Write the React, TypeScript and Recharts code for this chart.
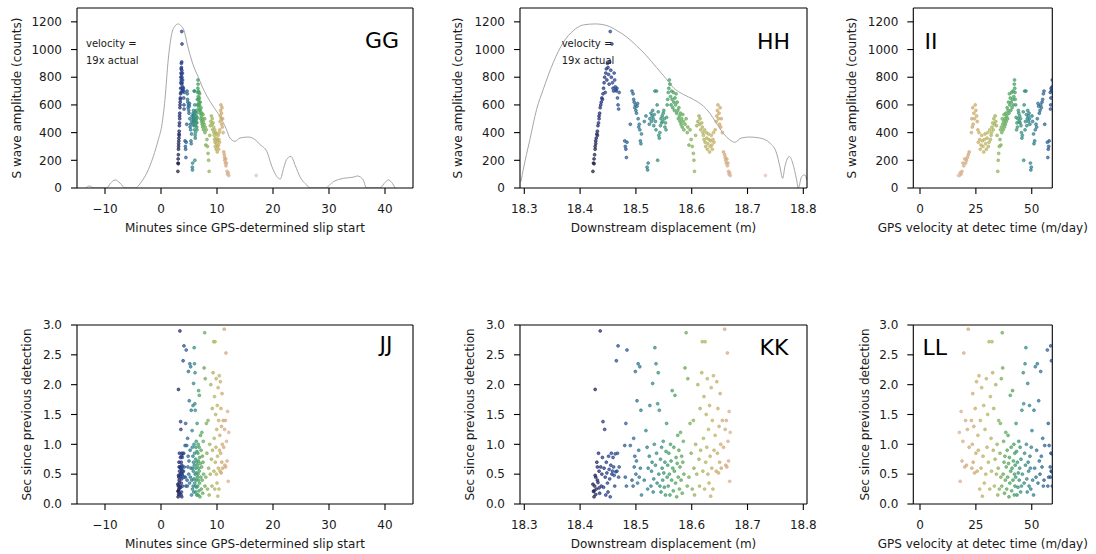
import React from 'react';
import { ComposedChart, Scatter, Line, XAxis, YAxis, Label, ReferenceLine } from 'recharts';

// Each detection: [minutes since slip start, downstream displacement (m), GPS velocity (m/day), S wave amplitude (counts), sec since previous detection]
type Row = [number, number, number, number, number];

const phaseNavy: Row[] = [
  [3.02, 18.423, 66.0, 120, 0.33], [3.05, 18.424, 65.8, 180, 0.21], [3.06, 18.425, 65.6, 210, 0.12],
  [3.08, 18.425, 65.5, 175, 0.22], [3.1, 18.426, 65.3, 240, 0.3], [3.12, 18.427, 65.0, 280, 1.92],
  [3.14, 18.427, 64.9, 300, 0.48], [3.15, 18.428, 64.8, 320, 0.16], [3.18, 18.428, 64.5, 340, 0.45],
  [3.2, 18.429, 64.3, 360, 0.25], [3.22, 18.43, 64.0, 390, 0.7], [3.24, 18.431, 63.9, 380, 0.62],
  [3.25, 18.431, 63.8, 410, 0.4], [3.28, 18.432, 63.5, 450, 0.36], [3.3, 18.433, 63.3, 470, 0.85],
  [3.32, 18.434, 63.0, 520, 0.55], [3.34, 18.434, 62.9, 500, 0.27], [3.35, 18.435, 62.8, 540, 0.18],
  [3.38, 18.436, 62.5, 580, 2.9], [3.4, 18.437, 62.3, 600, 0.62], [3.42, 18.438, 62.0, 620, 0.3],
  [3.45, 18.439, 61.8, 650, 0.5], [3.47, 18.44, 61.5, 640, 0.78], [3.5, 18.441, 61.3, 680, 1.38],
];

const phaseNavyBlue: Row[] = [
  [3.52, 18.442, 61.2, 720, 0.28], [3.54, 18.443, 61.1, 760, 0.6], [3.55, 18.444, 61.0, 800, 1.25],
  [3.57, 18.445, 60.9, 690, 0.45], [3.58, 18.446, 60.8, 830, 0.15], [3.6, 18.447, 60.7, 860, 0.7],
  [3.62, 18.448, 60.6, 780, 0.52], [3.63, 18.449, 60.5, 900, 0.35], [3.65, 18.45, 60.4, 870, 0.2],
  [3.67, 18.451, 60.3, 820, 0.8], [3.68, 18.452, 60.2, 750, 0.58], [3.7, 18.453, 60.1, 910, 0.42],
  [3.71, 18.454, 60.0, 1130, 0.12], [3.72, 18.455, 59.9, 850, 0.65], [3.74, 18.456, 59.8, 800, 0.85],
  [3.75, 18.457, 59.7, 1040, 0.5], [3.77, 18.458, 59.6, 760, 0.55], [3.78, 18.459, 59.5, 720, 0.78],
  [3.8, 18.46, 59.4, 700, 0.62], [3.82, 18.461, 59.3, 830, 0.48], [3.85, 18.462, 59.2, 780, 0.3],
  [3.88, 18.463, 59.1, 730, 0.84], [3.9, 18.464, 59.0, 710, 0.54],
];

const phaseBlue: Row[] = [
  [3.95, 18.465, 58.8, 700, 2.4], [4.0, 18.466, 58.7, 720, 0.55], [4.05, 18.467, 58.6, 650, 0.85],
  [4.1, 18.468, 58.5, 600, 2.65], [4.12, 18.469, 58.4, 570, 0.45], [4.15, 18.47, 58.3, 690, 0.62],
  [4.3, 18.48, 57.8, 340, 0.98], [4.35, 18.481, 57.6, 300, 0.45], [4.4, 18.482, 57.4, 280, 1.35],
  [4.45, 18.483, 57.2, 220, 0.3], [4.5, 18.484, 57.0, 330, 2.58],
];

const phaseBlueTeal: Row[] = [
  [4.6, 18.49, 55.8, 460, 0.98], [4.65, 18.493, 55.5, 700, 0.4], [4.7, 18.495, 55.2, 680, 0.3],
  [4.75, 18.496, 54.9, 640, 1.1], [4.8, 18.497, 54.6, 620, 0.62], [4.85, 18.498, 54.3, 580, 0.8],
  [4.9, 18.499, 54.0, 600, 2.22], [4.95, 18.5, 53.7, 560, 0.5], [5.0, 18.501, 53.4, 540, 0.72],
  [5.05, 18.502, 53.1, 590, 1.73], [5.1, 18.503, 52.8, 610, 0.35], [5.15, 18.504, 52.5, 500, 2.35],
  [5.2, 18.505, 52.2, 440, 0.9], [5.25, 18.506, 51.9, 460, 0.45], [5.3, 18.507, 51.6, 420, 2.3],
  [5.35, 18.508, 51.3, 340, 0.6], [5.4, 18.509, 51.0, 320, 1.57], [5.45, 18.51, 50.8, 390, 0.15],
];

const phaseTeal: Row[] = [
  [5.5, 18.515, 50.4, 480, 0.4], [5.55, 18.518, 50.1, 520, 1.23], [5.6, 18.52, 49.8, 150, 0.95],
  [5.62, 18.521, 49.6, 130, 0.25], [5.65, 18.522, 49.4, 180, 0.6], [5.7, 18.524, 49.2, 460, 0.8],
  [5.72, 18.525, 49.0, 500, 1.65], [5.75, 18.527, 48.8, 540, 0.3], [5.78, 18.528, 48.6, 480, 0.55],
  [5.8, 18.529, 48.4, 520, 0.7], [5.82, 18.53, 48.2, 560, 2.02], [5.85, 18.531, 48.0, 500, 0.2],
  [5.88, 18.532, 47.8, 450, 0.42], [5.9, 18.533, 47.6, 530, 1.0], [5.92, 18.534, 47.4, 700, 2.62],
  [5.95, 18.535, 47.2, 480, 0.65], [5.98, 18.536, 47.0, 420, 2.35], [6.0, 18.537, 46.8, 700, 0.85],
  [6.02, 18.538, 46.6, 600, 0.35], [6.05, 18.539, 46.4, 200, 1.68], [6.08, 18.54, 46.2, 550, 2.2],
];

const phaseTealGreen: Row[] = [
  [6.1, 18.541, 45.8, 380, 0.5], [6.12, 18.542, 45.6, 360, 1.57], [6.15, 18.543, 45.4, 400, 0.3],
  [6.18, 18.544, 45.2, 450, 0.75], [6.2, 18.545, 45.0, 500, 0.2], [6.22, 18.546, 44.8, 470, 0.95],
  [6.25, 18.547, 44.6, 520, 0.6], [6.28, 18.548, 44.4, 480, 0.4], [6.3, 18.549, 44.2, 540, 1.05],
  [6.32, 18.55, 44.0, 560, 0.52], [6.35, 18.551, 43.8, 500, 0.28], [6.38, 18.552, 43.6, 440, 0.7],
  [6.4, 18.553, 43.4, 470, 0.15], [6.42, 18.554, 43.2, 420, 0.88], [6.45, 18.555, 43.0, 510, 1.35],
  [6.48, 18.556, 42.8, 600, 0.45],
];

const phaseGreen: Row[] = [
  [6.5, 18.557, 42.6, 640, 0.65], [6.55, 18.558, 42.5, 690, 0.3], [6.58, 18.559, 42.4, 720, 0.85],
  [6.6, 18.56, 42.3, 780, 0.5], [6.62, 18.561, 42.2, 750, 0.15], [6.65, 18.562, 42.0, 660, 1.0],
  [6.68, 18.563, 41.8, 600, 0.72], [6.7, 18.564, 41.6, 700, 0.4], [6.72, 18.565, 41.4, 640, 1.9],
  [6.75, 18.566, 41.2, 580, 0.6], [6.78, 18.567, 41.0, 690, 0.22], [6.8, 18.568, 40.8, 620, 0.95],
  [6.82, 18.569, 40.6, 560, 0.55], [6.85, 18.57, 40.4, 650, 1.82], [6.88, 18.571, 40.2, 600, 0.35],
  [6.9, 18.572, 40.0, 680, 0.78], [6.95, 18.573, 39.8, 540, 0.12], [7.0, 18.574, 39.6, 620, 0.68],
  [7.05, 18.575, 39.4, 560, 1.15], [7.1, 18.576, 39.2, 500, 0.45], [7.15, 18.577, 39.0, 580, 0.9],
  [7.2, 18.578, 38.8, 520, 0.25], [7.25, 18.579, 38.6, 480, 0.62], [7.3, 18.58, 38.4, 540, 1.2],
  [7.35, 18.581, 38.2, 460, 0.4], [7.4, 18.582, 38.0, 500, 0.8], [7.45, 18.583, 37.8, 440, 0.18],
  [7.5, 18.584, 37.6, 530, 0.7], [7.55, 18.585, 37.4, 480, 1.05], [7.6, 18.586, 37.2, 420, 0.5],
  [7.7, 18.588, 37.0, 460, 2.28], [7.8, 18.59, 36.8, 500, 2.87], [7.85, 18.592, 36.6, 400, 0.3],
  [7.9, 18.593, 36.4, 440, 2.1],
];

const phaseYellowGreen: Row[] = [
  [8.0, 18.595, 36.2, 310, 0.45], [8.1, 18.597, 36.0, 420, 1.35], [8.2, 18.599, 35.8, 350, 0.85],
  [8.3, 18.601, 35.5, 300, 0.25], [8.4, 18.603, 35.2, 250, 1.4], [8.5, 18.604, 35.0, 200, 0.6],
  [8.6, 18.605, 34.8, 120, 0.15], [8.7, 18.607, 34.5, 380, 1.0], [8.8, 18.609, 34.2, 450, 0.5],
  [8.9, 18.611, 33.9, 480, 2.0], [9.0, 18.613, 33.6, 520, 0.75], [9.1, 18.614, 33.3, 460, 0.3],
  [9.15, 18.615, 33.0, 500, 1.6], [9.2, 18.616, 32.8, 420, 0.9], [9.3, 18.618, 32.5, 470, 2.2],
  [9.4, 18.619, 32.2, 440, 2.72], [9.45, 18.62, 32.0, 400, 0.55],
];

const phaseKhaki: Row[] = [
  [9.5, 18.621, 31.8, 380, 1.1], [9.55, 18.622, 31.5, 350, 1.8], [9.6, 18.623, 31.2, 420, 0.25],
  [9.65, 18.624, 30.9, 330, 2.72], [9.7, 18.625, 30.6, 300, 0.7], [9.75, 18.626, 30.3, 400, 1.5],
  [9.8, 18.627, 30.0, 360, 0.95], [9.85, 18.628, 29.7, 280, 2.1], [9.9, 18.629, 29.4, 320, 0.5],
  [9.95, 18.63, 29.1, 390, 1.25], [10.0, 18.631, 28.8, 350, 0.35], [10.05, 18.632, 28.5, 260, 1.65],
  [10.1, 18.633, 28.2, 300, 0.8], [10.15, 18.634, 27.9, 340, 0.13], [10.2, 18.635, 27.6, 380, 1.95],
  [10.25, 18.636, 27.3, 310, 0.6], [10.3, 18.637, 27.0, 280, 1.4], [10.35, 18.638, 26.7, 350, 0.25],
  [10.4, 18.639, 26.4, 400, 2.15], [10.45, 18.64, 26.1, 330, 0.9],
];

const phaseTan: Row[] = [
  [10.5, 18.642, 25.9, 420, 1.15], [10.55, 18.644, 25.6, 480, 0.55], [10.6, 18.645, 25.3, 520, 2.05],
  [10.65, 18.646, 25.0, 560, 0.85], [10.7, 18.647, 24.7, 600, 1.6], [10.75, 18.648, 24.4, 500, 0.52],
  [10.8, 18.649, 24.1, 540, 1.3], [10.85, 18.65, 23.8, 460, 0.7], [10.9, 18.651, 23.6, 580, 1.85],
  [10.95, 18.652, 23.4, 440, 1.0], [11.0, 18.653, 23.2, 500, 0.6], [11.1, 18.655, 23.0, 400, 1.4],
];

const phaseLate: Row[] = [
  [11.2, 18.657, 22.0, 260, 0.95], [11.3, 18.659, 21.6, 240, 2.93], [11.35, 18.66, 21.2, 220, 1.25],
  [11.4, 18.661, 20.8, 200, 0.65], [11.5, 18.662, 20.4, 180, 1.4], [11.55, 18.663, 20.0, 210, 0.62],
  [11.6, 18.664, 19.6, 160, 2.53], [11.7, 18.665, 19.2, 180, 1.05], [11.8, 18.666, 18.8, 120, 0.72],
  [11.9, 18.667, 18.4, 100, 1.55], [12.0, 18.668, 18.0, 110, 0.38], [12.1, 18.669, 17.6, 90, 1.2],
  [17.0, 18.732, 17.2, 90, 4.0],
];

const detections: Row[] = [
  ...phaseNavy, ...phaseNavyBlue, ...phaseBlue, ...phaseBlueTeal, ...phaseTeal,
  ...phaseTealGreen, ...phaseGreen, ...phaseYellowGreen, ...phaseKhaki, ...phaseTan, ...phaseLate,
];

// GPS velocity (x19, in amplitude units) versus time
const velCurveMinutes = [
  -13.4, -12.8, -12.0, -9.7, -9.0, -8.2, -7.3, -6.4, -4.6, -3.5, -2.55, -1.37, -0.48, 0.12, 0.71, 1.3,
  1.9, 2.5, 3.1, 3.6, 4.0, 4.9, 5.8, 6.7, 7.3, 8.2, 9.3, 10.5, 11.7, 12.3, 13.2, 14.1, 15.6, 16.8, 17.7,
  18.9, 19.8, 20.7, 21.3, 21.9, 22.4, 23.2, 24.0, 24.8, 26.0, 26.6, 29.3, 30.8, 32.6, 34.3, 35.1, 36.1,
  36.7, 39.1, 40.0, 40.6, 41.2, 41.8,
];
const velCurveMinutesAmp = [
  0, 15, 0, 0, 35, 58, 35, 0, 0, 45, 107, 228, 349, 446, 640, 931,
  1110, 1170, 1185, 1170, 1149, 1004, 882, 797, 737, 664, 591, 519, 422, 361, 337, 361, 368, 349, 313,
  264, 155, 82, 65, 143, 204, 228, 160, 82, 22, 0, 0, 46, 70, 78, 87, 58,
  0, 0, 40, 58, 40, 0,
];

// GPS velocity (x19) versus downstream displacement
const velCurveDisp = [
  18.294, 18.298, 18.31, 18.322, 18.334, 18.352, 18.37, 18.388, 18.406, 18.427, 18.448, 18.466, 18.484,
  18.501, 18.519, 18.537, 18.555, 18.567, 18.585, 18.603, 18.621, 18.632, 18.644, 18.656, 18.668, 18.677,
  18.689, 18.704, 18.722, 18.74, 18.752, 18.758, 18.763, 18.767, 18.775, 18.781, 18.788, 18.791, 18.797,
  18.803, 18.806,
];
const velCurveDispAmp = [
  46, 131, 349, 567, 713, 907, 1052, 1137, 1178, 1185, 1173, 1137, 1089,
  1028, 955, 870, 785, 725, 676, 640, 591, 543, 470, 398, 349, 330,
  361, 368, 361, 325, 252, 155, 70, 155, 228, 180, 58, 0, 82,
  95, 58,
];

const minuteTicks = [-10, 0, 10, 20, 30, 40];
const dispTicks = [18.3, 18.4, 18.5, 18.6, 18.7, 18.8];
const velTicks = [0, 25, 50];
const ampTicks = [0, 200, 400, 600, 800, 1000, 1200];
const intervalTicks = [0, 0.5, 1, 1.5, 2, 2.5, 3];

// colour ramp (gist_earth-like) keyed on minutes
const colorStops: [number, string][] = [
  [3.0, '#1e1e3c'], [3.3, '#232a6e'], [3.7, '#283d86'], [4.2, '#2b558e'], [4.9, '#2d6b91'],
  [5.6, '#2f7f8d'], [6.2, '#37907c'], [6.7, '#45a060'], [7.5, '#62a957'], [8.5, '#90b05a'],
  [9.5, '#b0b35f'], [10.3, '#c4b064'], [10.9, '#cca76c'], [11.5, '#d3a97f'], [12.2, '#dab398'],
  [17, '#e4c2b2'],
];

function hexToRgb(h: string) {
  return [parseInt(h.slice(1, 3), 16), parseInt(h.slice(3, 5), 16), parseInt(h.slice(5, 7), 16)];
}
function colorAt(t: number) {
  if (t <= colorStops[0][0]) return colorStops[0][1];
  for (let i = 1; i < colorStops.length; i++) {
    if (t <= colorStops[i][0]) {
      const [t0, c0] = colorStops[i - 1];
      const [t1, c1] = colorStops[i];
      const f = (t - t0) / (t1 - t0);
      const a = hexToRgb(c0);
      const b = hexToRgb(c1);
      const m = a.map((v, k) => Math.round(v + (b[k] - v) * f));
      return `rgb(${m[0]},${m[1]},${m[2]})`;
    }
  }
  return colorStops[colorStops.length - 1][1];
}

const FONT = '"DejaVu Sans", sans-serif';
const INK = '#1a1a1a';
const axisStroke = { stroke: '#000', strokeWidth: 1.1 };
const tickStyle = { fontSize: 12, fill: INK };

const fmtMinutes = (v: number) => (v < 0 ? '\u2212' + Math.abs(v) : String(v));
const fmtOne = (v: number) => v.toFixed(1);
const fmtInt = (v: number) => String(v);

const Dot = (p: any) => {
  if (p.cx == null || p.cy == null) return <g />;
  const c = colorAt(p.payload.t);
  return <circle cx={p.cx} cy={p.cy} r={1.45} fill={c} fillOpacity={0.7} stroke={c} strokeOpacity={0.9} strokeWidth={0.7} />;
};

type PanelProps = {
  left: number; top: number; width: number; height: number;
  marginTop: number; marginRight: number; yAxisWidth: number; xAxisHeight: number;
  xDomain: [number, number]; yDomain: [number, number];
  xTicks: number[]; yTicks: number[];
  xFormat: (v: number) => string; yFormat: (v: number) => string;
  xTitle: string; yTitle: string; yTitleX: number; xTitleOffset: number;
  points: { x: number; y: number; t: number }[];
  curve?: { x: number; y: number }[];
};

function Panel(p: PanelProps) {
  const cy = p.marginTop + (p.height - p.marginTop - p.xAxisHeight) / 2;
  const inside = p.points.filter(
    (d) => d.x >= p.xDomain[0] && d.x <= p.xDomain[1] && d.y >= p.yDomain[0] && d.y <= p.yDomain[1]
  );
  return (
    <div style={{ position: 'absolute', left: p.left, top: p.top }}>
      <ComposedChart width={p.width} height={p.height} margin={{ top: p.marginTop, right: p.marginRight, bottom: 0, left: 0 }}>
        <XAxis
          dataKey="x" type="number" domain={p.xDomain} ticks={p.xTicks} interval={0} allowDataOverflow
          height={p.xAxisHeight} tickSize={6} tickMargin={10} tickFormatter={p.xFormat}
          tick={tickStyle} axisLine={axisStroke} tickLine={axisStroke}
        >
          <Label value={p.xTitle} position="insideBottom" offset={p.xTitleOffset} fontSize={12} fill={INK} />
        </XAxis>
        <YAxis
          dataKey="y" type="number" domain={p.yDomain} ticks={p.yTicks} interval={0} allowDataOverflow
          width={p.yAxisWidth} tickSize={6} tickMargin={9} tickFormatter={p.yFormat}
          tick={tickStyle} axisLine={axisStroke} tickLine={axisStroke}
        >
          <Label
            content={() => (
              <text transform={`translate(${p.yTitleX},${cy}) rotate(-90)`} textAnchor="middle" fontSize={12} fill={INK}>
                {p.yTitle}
              </text>
            )}
          />
        </YAxis>
        {p.curve && (
          <Line data={p.curve} dataKey="y" type="monotone" dot={false} activeDot={false} stroke="#9c9c9c" strokeWidth={0.9} isAnimationActive={false} />
        )}
        <Scatter data={inside} dataKey="y" shape={Dot} isAnimationActive={false} />
        <ReferenceLine y={p.yDomain[1]} stroke="#000" strokeWidth={1.1} ifOverflow="visible" />
        <ReferenceLine x={p.xDomain[1]} stroke="#000" strokeWidth={1.1} ifOverflow="visible" />
      </ComposedChart>
    </div>
  );
}

export default function App() {
  const ampMin = detections.map((d) => ({ x: d[0], y: d[3], t: d[0] }));
  const ampDisp = detections.map((d) => ({ x: d[1], y: d[3], t: d[0] }));
  const ampVel = detections.map((d) => ({ x: d[2], y: d[3], t: d[0] }));
  const intMin = detections.map((d) => ({ x: d[0], y: d[4], t: d[0] }));
  const intDisp = detections.map((d) => ({ x: d[1], y: d[4], t: d[0] }));
  const intVel = detections.map((d) => ({ x: d[2], y: d[4], t: d[0] }));
  const curveMin = velCurveMinutes.map((x, i) => ({ x, y: velCurveMinutesAmp[i] }));
  const curveDisp = velCurveDisp.map((x, i) => ({ x, y: velCurveDispAmp[i] }));

  const minDom: [number, number] = [-15, 45];
  const dispDom: [number, number] = [18.2923, 18.8066];
  const velDom: [number, number] = [-3, 59.2];
  const ampDom: [number, number] = [0, 1300];
  const intDom: [number, number] = [0, 3];

  const top = { top: 0, height: 240, marginTop: 8, xAxisHeight: 52, xTitleOffset: 8.5 };
  const bot = { top: 310, height: 244, marginTop: 15, xAxisHeight: 50, xTitleOffset: 6 };
  const colA = { left: 0, width: 420, marginRight: 7, yAxisWidth: 77 };
  const colB = { left: 430, width: 390, marginRight: 13, yAxisWidth: 90 };
  const colC = { left: 830, width: 266, marginRight: 43.7, yAxisWidth: 83.3 };

  const ampTitle = 'S wave amplitude (counts)';
  const intTitle = 'Sec since previous detection';
  const minTitle = 'Minutes since GPS-determined slip start';
  const dispTitle = 'Downstream displacement (m)';
  const velTitle = 'GPS velocity at detec time (m/day)';

  return (
    <div style={{ position: 'absolute', left: 0, top: 0, width: 1096, height: 554, background: '#fff', fontFamily: FONT }}>
      <Panel {...top} {...colA} xDomain={minDom} yDomain={ampDom} xTicks={minuteTicks} yTicks={ampTicks}
        xFormat={fmtMinutes} yFormat={fmtInt} xTitle={minTitle} yTitle={ampTitle} yTitleX={20.5} points={ampMin} curve={curveMin} />
      <Panel {...top} {...colB} xDomain={dispDom} yDomain={ampDom} xTicks={dispTicks} yTicks={ampTicks}
        xFormat={fmtOne} yFormat={fmtInt} xTitle={dispTitle} yTitle={ampTitle} yTitleX={32.3} points={ampDisp} curve={curveDisp} />
      <Panel {...top} {...colC} xDomain={velDom} yDomain={ampDom} xTicks={velTicks} yTicks={ampTicks}
        xFormat={fmtInt} yFormat={fmtInt} xTitle={velTitle} yTitle={ampTitle} yTitleX={25.5} points={ampVel} />
      <Panel {...bot} {...colA} xDomain={minDom} yDomain={intDom} xTicks={minuteTicks} yTicks={intervalTicks}
        xFormat={fmtMinutes} yFormat={fmtOne} xTitle={minTitle} yTitle={intTitle} yTitleX={30.5} points={intMin} />
      <Panel {...bot} {...colB} xDomain={dispDom} yDomain={intDom} xTicks={dispTicks} yTicks={intervalTicks}
        xFormat={fmtOne} yFormat={fmtOne} xTitle={dispTitle} yTitle={intTitle} yTitleX={44} points={intDisp} />
      <Panel {...bot} {...colC} xDomain={velDom} yDomain={intDom} xTicks={velTicks} yTicks={intervalTicks}
        xFormat={fmtInt} yFormat={fmtOne} xTitle={velTitle} yTitle={intTitle} yTitleX={39} points={intVel} />
      <svg width={1096} height={554} style={{ position: 'absolute', left: 0, top: 0, pointerEvents: 'none' }}>
        <g fill="#000" fontSize={22}>
          <text x={399} y={48} textAnchor="end">GG</text>
          <text x={790} y={48.5} textAnchor="end">HH</text>
          <text x={924.5} y={48.5}>II</text>
          <text x={379.5} y={352}>JJ</text>
          <text x={759.5} y={355}>KK</text>
          <text x={922.5} y={355}>LL</text>
        </g>
        <g fill={INK} fontSize={10}>
          <text x={86} y={47}>velocity =</text>
          <text x={86} y={63.5}>19x actual</text>
          <text x={561.7} y={47}>velocity =</text>
          <text x={561.7} y={63.5}>19x actual</text>
        </g>
      </svg>
    </div>
  );
}
